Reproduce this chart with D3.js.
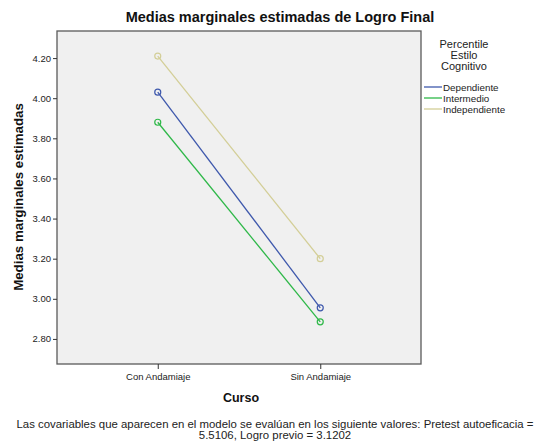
<!DOCTYPE html>
<html>
<head>
<meta charset="utf-8">
<script src="https://cdn.jsdelivr.net/npm/d3@7"></script>
<style>
  body { margin: 0; background: #fff; }
  svg { display: block; font-family: "Liberation Sans", Arial, sans-serif; }
</style>
</head>
<body>
<svg id="chart" width="548" height="442"></svg>
<script>
// Estimated marginal means of final achievement by course and cognitive style
const cursos = ["Con Andamiaje", "Sin Andamiaje"];
const grupos = ["Dependiente", "Intermedio", "Independiente"];
const dependiente = [4.03, 2.955];
const intermedio = [3.88, 2.885];
const independiente = [4.21, 3.20];
const yTicks = [2.80, 3.00, 3.20, 3.40, 3.60, 3.80, 4.00, 4.20];
const colores = ["#3e58ac", "#2eb848", "#d3ce97"];

const series = [dependiente, intermedio, independiente].map((vals, i) => ({
  name: grupos[i], color: colores[i],
  points: vals.map((v, j) => ({ curso: cursos[j], value: v }))
}));

const svg = d3.select("#chart");
const plot = { left: 57, top: 31, right: 421, bottom: 364 };

const x = d3.scalePoint().domain(cursos).range([plot.left, plot.right]).padding(0.62);
const y = d3.scaleLinear().domain([2.675, 4.335]).range([plot.bottom, plot.top]);

// plot background
svg.append("rect")
  .attr("x", plot.left).attr("y", plot.top)
  .attr("width", plot.right - plot.left).attr("height", plot.bottom - plot.top)
  .attr("fill", "#f0f0f0").attr("stroke", "#5a5a5a").attr("stroke-width", 1.3);

// y axis
const yAxis = svg.append("g")
  .attr("transform", `translate(${plot.left},0)`)
  .call(d3.axisLeft(y).tickValues(yTicks).tickFormat(d3.format(".2f")).tickSize(4).tickSizeOuter(0));
yAxis.select(".domain").remove();
yAxis.selectAll("line").attr("stroke", "#333");
yAxis.selectAll("text").attr("font-size", 9.5).attr("fill", "#222")
  .attr("font-family", "Liberation Sans, Arial, sans-serif").attr("dx", 1);

// x axis
const xAxis = svg.append("g")
  .attr("transform", `translate(0,${plot.bottom})`)
  .call(d3.axisBottom(x).tickSize(5).tickSizeOuter(0));
xAxis.select(".domain").remove();
xAxis.selectAll("line").attr("stroke", "#333");
xAxis.selectAll("text").attr("font-size", 9.5).attr("fill", "#222")
  .attr("font-family", "Liberation Sans, Arial, sans-serif").attr("dy", "0.85em");

// lines and markers
const line = d3.line().x(d => x(d.curso)).y(d => y(d.value));
series.forEach(s => {
  svg.append("path").datum(s.points)
    .attr("d", line).attr("fill", "none")
    .attr("stroke", s.color).attr("stroke-width", 1.3);
  svg.selectAll(null).data(s.points).enter().append("circle")
    .attr("cx", d => x(d.curso)).attr("cy", d => y(d.value)).attr("r", 3)
    .attr("fill", "none").attr("stroke", s.color).attr("stroke-width", 1.2);
});

// titles
svg.append("text").attr("x", 280).attr("y", 22).attr("text-anchor", "middle")
  .attr("font-size", 14.5).attr("font-weight", "bold").attr("fill", "#111")
  .text("Medias marginales estimadas de Logro Final");

svg.append("text").attr("transform", "translate(23,197) rotate(-90)")
  .attr("text-anchor", "middle").attr("font-size", 13.3).attr("font-weight", "bold").attr("fill", "#111")
  .text("Medias marginales estimadas");

svg.append("text").attr("x", 241).attr("y", 402).attr("text-anchor", "middle")
  .attr("font-size", 12.5).attr("font-weight", "bold").attr("fill", "#111")
  .text("Curso");

// footnote
const foot = svg.append("text").attr("text-anchor", "middle").attr("font-size", 11.4).attr("fill", "#222");
foot.append("tspan").attr("x", 275).attr("y", 428)
  .text("Las covariables que aparecen en el modelo se evalúan en los siguiente valores: Pretest autoeficacia =");
foot.append("tspan").attr("x", 275).attr("y", 439)
  .text("5.5106, Logro previo = 3.1202");

// legend
const legTitle = ["Percentile", "Estilo", "Cognitivo"];
svg.append("g").selectAll("text").data(legTitle).enter().append("text")
  .attr("x", 464).attr("y", (d, i) => 48 + i * 11).attr("text-anchor", "middle")
  .attr("font-size", 11).attr("fill", "#222").text(d => d);

const leg = svg.append("g").selectAll("g").data(series).enter().append("g")
  .attr("transform", (d, i) => `translate(424,${87 + i * 11})`);
leg.append("line").attr("x1", 0).attr("x2", 18).attr("y1", 0).attr("y2", 0)
  .attr("stroke", d => d.color).attr("stroke-width", 1.3);
leg.append("text").attr("x", 19).attr("y", 3.5).attr("font-size", 9.8).attr("fill", "#222")
  .text(d => d.name);
</script>
</body>
</html>
